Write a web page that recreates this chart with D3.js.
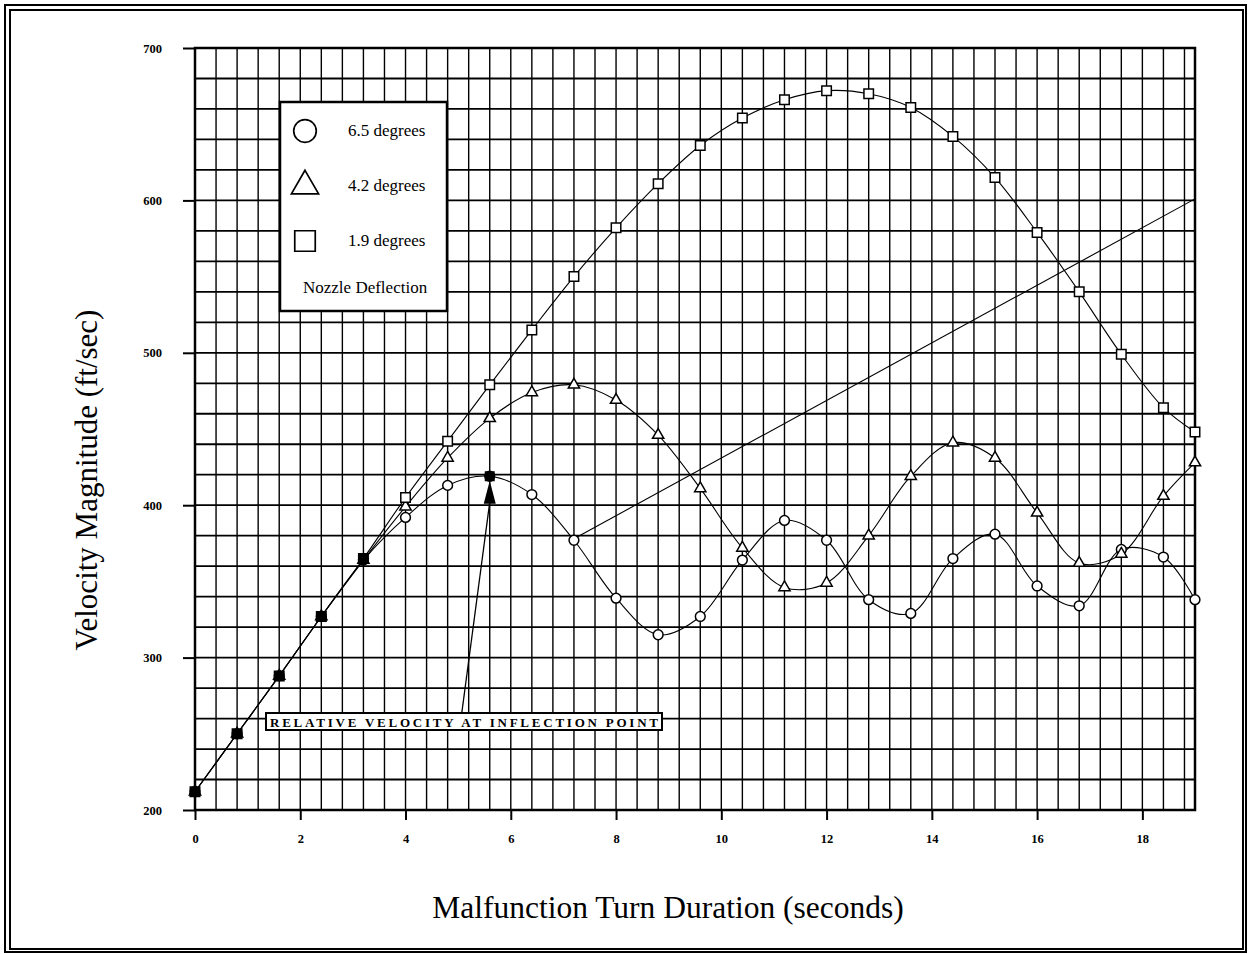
<!DOCTYPE html>
<html>
<head>
<meta charset="utf-8">
<script src="https://cdn.jsdelivr.net/npm/d3@7"></script>
<style>
  body { margin: 0; background: #fff; }
  text { font-family: "Liberation Serif", "Times New Roman", serif; fill: #000; }
</style>
</head>
<body>
<div id="chart"></div>
<script>

// turn duration (seconds) of every sampled point
var seconds = [0, 0.8, 1.6, 2.4, 3.2, 4.0, 4.8, 5.6, 6.4, 7.2, 8.0, 8.8, 9.6, 10.4,
               11.2, 12.0, 12.8, 13.6, 14.4, 15.2, 16.0, 16.8, 17.6, 18.4, 19.0];

// velocity magnitude (ft/sec) per nozzle deflection
var deg65 = [212, 250, 288, 327, 364, 392, 413, 419, 407, 377, 339, 315, 327, 364,
             390, 377, 338, 329, 365, 381, 347, 334, 371, 366, 338];
var deg42 = [212, 250, 288, 327, 364, 399, 431, 457, 474, 479, 469, 446, 411, 372,
             346, 349, 380, 419, 441, 431, 395, 362, 368, 406, 428];
var deg19 = [212, 250, 288, 327, 365, 405, 442, 479, 515, 550, 582, 611, 636, 654,
             666, 672, 670, 661, 642, 615, 579, 540, 499, 464, 448];

var xTicks = [0, 2, 4, 6, 8, 10, 12, 14, 16, 18];
var yTicks = [200, 300, 400, 500, 600, 700];
var legendLabels = ['6.5 degrees', '4.2 degrees', '1.9 degrees'];

// straight line drawn from the 6.5 degree curve at 7.2 s
var trendSeconds = [7.2, 19];
var trendValues = [378, 601];

// inflection point and the callout pointing at it
var inflection = {t: 5.6, v: 419};
var calloutText = 'RELATIVE VELOCITY AT INFLECTION POINT';

var svg = d3.select('#chart')
  .append('svg')
  .attr('width', 1249)
  .attr('height', 954);

svg.append('rect').attr('width', 1249).attr('height', 954).attr('fill', '#fff');

// double page frame
svg.append('rect')
  .attr('x', 5).attr('y', 5).attr('width', 1241).attr('height', 947)
  .attr('fill', 'none').attr('stroke', '#000').attr('stroke-width', 2);
svg.append('rect')
  .attr('x', 10).attr('y', 10).attr('width', 1233).attr('height', 939)
  .attr('fill', 'none').attr('stroke', '#000').attr('stroke-width', 2);

var x = d3.scaleLinear().domain([0, 19]).range([195, 1195]);
var y = d3.scaleLinear().domain([200, 700]).range([810, 48]);

// grid
var grid = svg.append('g');
grid.selectAll('line.v')
  .data(d3.range(0, 19.01, 0.4))
  .enter()
    .append('line')
    .attr('x1', function(d){return x(d);})
    .attr('x2', function(d){return x(d);})
    .attr('y1', y(200))
    .attr('y2', y(700))
    .attr('stroke', '#000')
    .attr('stroke-width', 1.4);
grid.selectAll('line.h')
  .data(d3.range(200, 701, 20))
  .enter()
    .append('line')
    .attr('x1', x(0))
    .attr('x2', x(19))
    .attr('y1', function(d){return y(d);})
    .attr('y2', function(d){return y(d);})
    .attr('stroke', '#000')
    .attr('stroke-width', 1.8);

// plot border
svg.append('rect')
  .attr('x', x(0)).attr('y', y(700))
  .attr('width', x(19) - x(0)).attr('height', y(200) - y(700))
  .attr('fill', 'none').attr('stroke', '#000').attr('stroke-width', 2.5);

// axes
var yAxis = svg.append('g')
  .attr('transform', 'translate(' + x(0) + ',0)')
  .call(d3.axisLeft(y).tickValues(yTicks).tickSize(12).tickPadding(21));
var xAxis = svg.append('g')
  .attr('transform', 'translate(0,' + y(200) + ')')
  .call(d3.axisBottom(x).tickValues(xTicks).tickSize(10).tickPadding(14));
[xAxis, yAxis].forEach(function(a){
  a.select('.domain').remove();
  a.selectAll('line').attr('stroke', '#000').attr('stroke-width', 2);
  a.selectAll('text')
    .attr('font-family', '"Liberation Serif", serif')
    .attr('font-weight', 'bold')
    .attr('font-size', 12.5)
    .attr('fill', '#000');
});

// callout arrow (under the curves)
svg.append('line')
  .attr('x1', x(5.07)).attr('y1', y(264))
  .attr('x2', x(5.6)).attr('y2', y(402))
  .attr('stroke', '#000').attr('stroke-width', 1.3);
svg.append('path')
  .attr('d', 'M' + x(5.6) + ',' + y(416) + 'L' + (x(5.6) - 6) + ',' + y(401) +
             'L' + (x(5.6) + 6) + ',' + y(401) + 'Z')
  .attr('fill', '#000');

// series curves
var series = [
  {values: deg65, symbol: d3.symbolCircle, size: 75},
  {values: deg42, symbol: d3.symbolTriangle, size: 55},
  {values: deg19, symbol: d3.symbolSquare, size: 90}
];

var curve = d3.line()
  .x(function(d, i){return x(seconds[i]);})
  .y(function(d){return y(d);})
  .curve(d3.curveCatmullRom.alpha(0.5));

series.forEach(function(s){
  svg.append('path')
    .attr('d', curve(s.values))
    .attr('fill', 'none')
    .attr('stroke', '#000')
    .attr('stroke-width', 1.1);
});

svg.append('line')
  .attr('x1', x(trendSeconds[0])).attr('y1', y(trendValues[0]))
  .attr('x2', x(trendSeconds[1])).attr('y2', y(trendValues[1]))
  .attr('stroke', '#000').attr('stroke-width', 1.1);

series.forEach(function(s){
  svg.append('g').selectAll('path')
    .data(s.values)
    .enter()
      .append('path')
      .attr('transform', function(d, i){return 'translate(' + x(seconds[i]) + ',' + y(d) + ')';})
      .attr('d', d3.symbol().type(s.symbol).size(s.size))
      .attr('fill', function(d, i){return i < 5 ? '#000' : '#fff';})
      .attr('stroke', '#000')
      .attr('stroke-width', 1.5);
});

svg.append('rect')
  .attr('x', x(inflection.t) - 5).attr('y', y(inflection.v) - 5)
  .attr('width', 10).attr('height', 10)
  .attr('fill', '#000');

// callout box
svg.append('rect')
  .attr('x', 266).attr('y', 713).attr('width', 396).attr('height', 17)
  .attr('fill', '#fff').attr('stroke', '#000').attr('stroke-width', 2);
svg.append('text')
  .attr('x', 270).attr('y', 727)
  .attr('font-size', 13)
  .attr('font-weight', 'bold')
  .attr('textLength', 388)
  .attr('lengthAdjust', 'spacing')
  .text(calloutText);

// legend
var legend = svg.append('g');
legend.append('rect')
  .attr('x', 280).attr('y', 102).attr('width', 167).attr('height', 209)
  .attr('fill', '#fff').attr('stroke', '#000').attr('stroke-width', 2.5);
var legendSymbols = [d3.symbolCircle, d3.symbolTriangle, d3.symbolSquare];
var legendSizes = [400, 320, 420];
legend.selectAll('path.sym')
  .data(legendLabels)
  .enter()
    .append('path')
    .attr('transform', function(d, i){return 'translate(305,' + (131 + i * 55) + ')';})
    .attr('d', function(d, i){return d3.symbol().type(legendSymbols[i]).size(legendSizes[i])();})
    .attr('fill', '#fff')
    .attr('stroke', '#000')
    .attr('stroke-width', 1.7);
legend.selectAll('text.lab')
  .data(legendLabels)
  .enter()
    .append('text')
    .attr('x', 348)
    .attr('y', function(d, i){return 136 + i * 55;})
    .attr('font-size', 17)
    .text(function(d){return d;});
legend.append('text')
  .attr('x', 303).attr('y', 293)
  .attr('font-size', 17)
  .text('Nozzle Deflection');

// axis titles
svg.append('text')
  .attr('transform', 'translate(97,480) rotate(-90)')
  .attr('text-anchor', 'middle')
  .attr('font-size', 31)
  .text('Velocity Magnitude (ft/sec)');
svg.append('text')
  .attr('x', 668).attr('y', 918)
  .attr('text-anchor', 'middle')
  .attr('font-size', 31.5)
  .text('Malfunction Turn Duration (seconds)');

</script>
</body>
</html>
